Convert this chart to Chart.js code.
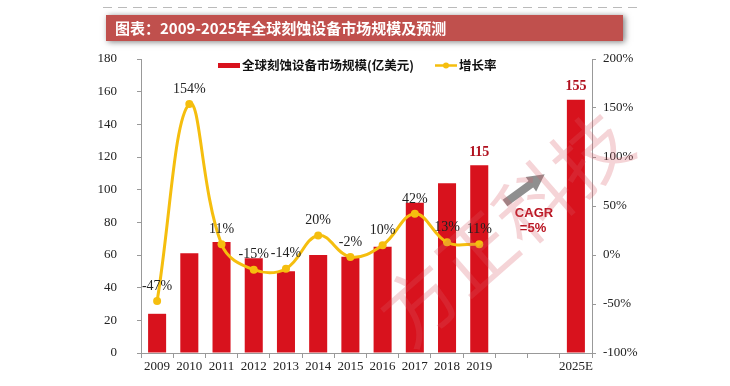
<!DOCTYPE html>
<html>
<head>
<meta charset="utf-8">
<script src="https://cdn.jsdelivr.net/npm/chart.js@4.4.0/dist/chart.umd.min.js"></script>
<style>
  html, body { margin: 0; padding: 0; background: #fff; }
  #wrap { width: 730px; height: 386px; }
</style>
</head>
<body>
<div id="wrap"><canvas id="c" width="730" height="386"></canvas></div>
<script>
// ---- data ----
const categories = ["2009", "2010", "2011", "2012", "2013", "2014", "2015", "2016", "2017", "2018", "2019", "", "", "2025E"];
const marketSize = [24, 61, 68, 58, 50, 60, 59, 65, 92, 104, 115, null, null, 155];
const growthRate = [-47, 154, 11, -15, -14, 20, -2, 10, 42, 13, 11, null, null, null];
const labelledBars = [10, 13];          // only 2019 and 2025E carry a value label
const leftTicks = { min: 0, max: 180, step: 20 };
const rightTicks = { min: -100, max: 200, step: 50 };

const titleText = "图表：2009-2025年全球刻蚀设备市场规模及预测";
const sizeLabel = "全球刻蚀设备市场规模(亿美元)";
const growthLabel = "增长率";
const cagrText = ["CAGR", "=5%"];
const watermark = "方正科技";

const RED = "#D8121D";
const GOLD = "#F5BE0E";
const SERIF = "'Liberation Serif', 'Times New Roman', serif";
const CJK = "'Noto Sans CJK SC', 'Noto Sans', sans-serif";

// ---- decorations: banner, legend, labels, arrow ----
const decor = {
  id: "decor",
  beforeDraw(chart) {
    const ctx = chart.ctx;
    ctx.save();
    // dashed rule above banner
    ctx.strokeStyle = "#bbb";
    ctx.lineWidth = 1;
    ctx.setLineDash([9, 6]);
    ctx.beginPath();
    ctx.moveTo(103, 7.5);
    ctx.lineTo(640, 7.5);
    ctx.stroke();
    ctx.setLineDash([]);
    // banner
    ctx.shadowColor = "rgba(0,0,0,0.5)";
    ctx.shadowBlur = 6;
    ctx.shadowOffsetX = 2;
    ctx.shadowOffsetY = 1;
    ctx.fillStyle = "#C0504D";
    ctx.fillRect(106, 15, 517, 26);
    ctx.shadowColor = "transparent";
    ctx.fillStyle = "#fff";
    ctx.font = "bold 15px " + CJK;
    ctx.textBaseline = "middle";
    ctx.textAlign = "left";
    ctx.fillText(titleText, 115, 28.5);

    // legend
    ctx.fillStyle = RED;
    ctx.fillRect(218, 63, 22, 5);
    ctx.fillStyle = "#111";
    ctx.font = "bold 12.5px " + CJK;
    ctx.fillText(sizeLabel, 242, 65.5);
    ctx.strokeStyle = GOLD;
    ctx.lineWidth = 2.5;
    ctx.beginPath();
    ctx.moveTo(435, 65.5);
    ctx.lineTo(457, 65.5);
    ctx.stroke();
    ctx.fillStyle = GOLD;
    ctx.beginPath();
    ctx.arc(446, 65.5, 3, 0, Math.PI * 2);
    ctx.fill();
    ctx.fillStyle = "#111";
    ctx.fillText(growthLabel, 459, 65.5);
    ctx.restore();
  },
  afterDatasetsDraw(chart) {
    const ctx = chart.ctx;
    ctx.save();
    // growth labels above points
    const lineMeta = chart.getDatasetMeta(1);
    ctx.fillStyle = "#222";
    ctx.font = "14px " + SERIF;
    ctx.textAlign = "center";
    ctx.textBaseline = "bottom";
    lineMeta.data.forEach((pt, i) => {
      const v = growthRate[i];
      if (v === null) return;
      ctx.fillText(v + "%", pt.x, pt.y - 8);
    });
    // bar value labels
    const barMeta = chart.getDatasetMeta(0);
    ctx.fillStyle = "#B0101E";
    ctx.font = "bold 14px " + SERIF;
    labelledBars.forEach(i => {
      const b = barMeta.data[i];
      ctx.fillText(String(marketSize[i]), b.x, b.y - 6);
    });

    // CAGR arrow
    ctx.fillStyle = "#8f8f8f";
    ctx.save();
    ctx.translate(505, 203);
    ctx.rotate(-Math.atan2(29, 40));
    ctx.fillRect(0, -4, 34, 8);
    ctx.beginPath();
    ctx.moveTo(32, -9);
    ctx.lineTo(49, 0);
    ctx.lineTo(32, 9);
    ctx.closePath();
    ctx.fill();
    ctx.restore();
    ctx.fillStyle = "#B8121F";
    ctx.font = "bold 13px 'Liberation Sans', Arial, sans-serif";
    ctx.fillText(cagrText[0], 534, 220);
    ctx.fillText(cagrText[1], 533, 235);

    // watermark
    ctx.save();
    ctx.translate(505, 228);
    ctx.rotate(-0.72);
    ctx.fillStyle = "rgba(215,90,100,0.26)";
    ctx.font = "normal 76px " + CJK;
    ctx.textBaseline = "middle";
    ctx.fillText(watermark, 0, 0);
    ctx.restore();
    ctx.restore();
  }
};

new Chart(document.getElementById("c"), {
  data: {
    labels: categories,
    datasets: [
      {
        type: "bar",
        label: sizeLabel,
        data: marketSize,
        backgroundColor: RED,
        categoryPercentage: 1,
        barPercentage: 0.56,
        yAxisID: "y",
        order: 2
      },
      {
        type: "line",
        label: growthLabel,
        data: growthRate,
        borderColor: GOLD,
        backgroundColor: GOLD,
        borderWidth: 3,
        pointRadius: 4,
        pointBackgroundColor: GOLD,
        pointBorderWidth: 0,
        tension: 0.4,
        spanGaps: false,
        yAxisID: "y1",
        order: 1
      }
    ]
  },
  options: {
    responsive: false,
    animation: false,
    layout: { padding: { top: 59, bottom: 0, left: 0, right: 0 } },
    plugins: {
      legend: { display: false },
      tooltip: { enabled: false }
    },
    scales: {
      x: {
        grid: { drawOnChartArea: false, tickLength: 5, color: "#999", offset: true },
        border: { color: "#999" },
        ticks: { color: "#222", font: { family: SERIF, size: 13 }, padding: 1, maxRotation: 0, autoSkip: false },
        afterFit(s) { s.height = 33; }
      },
      y: {
        position: "left",
        min: leftTicks.min,
        max: leftTicks.max,
        grid: { drawOnChartArea: false, tickLength: 4, color: "#999" },
        border: { color: "#999" },
        ticks: { stepSize: leftTicks.step, color: "#222", font: { family: SERIF, size: 13 }, padding: 20 },
        afterFit(s) { s.width = 141; }
      },
      y1: {
        position: "right",
        min: rightTicks.min,
        max: rightTicks.max,
        grid: { drawOnChartArea: false, tickLength: 4, color: "#999" },
        border: { color: "#999" },
        ticks: {
          stepSize: rightTicks.step,
          color: "#222",
          font: { family: SERIF, size: 13 },
          padding: 7,
          callback: v => v + "%"
        },
        afterFit(s) { s.width = 138; }
      }
    }
  },
  plugins: [decor]
});
</script>
</body>
</html>
